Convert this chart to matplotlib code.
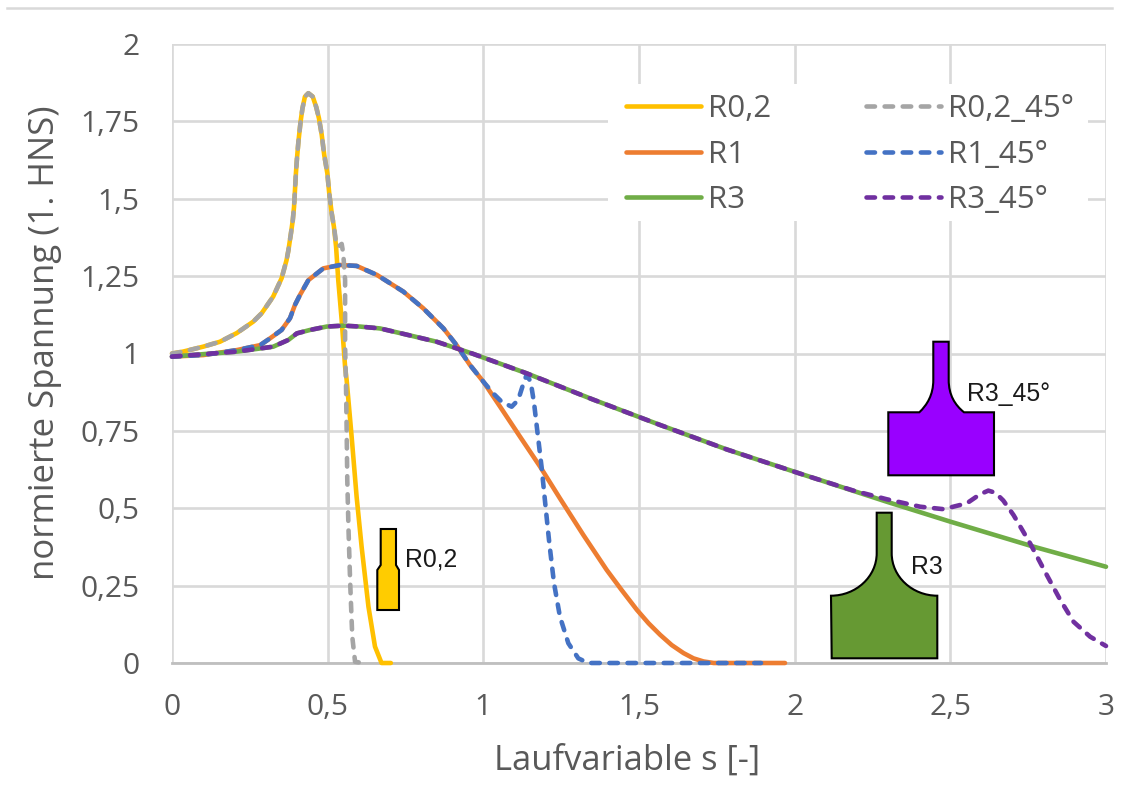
import matplotlib
matplotlib.use("Agg")
import matplotlib.pyplot as plt
from matplotlib.path import Path
from matplotlib.patches import PathPatch, Rectangle
from matplotlib.lines import Line2D
from matplotlib.transforms import Affine2D, IdentityTransform

W, H = 1125, 785
UI_FONT = "Open Sans"
GRAY = "#595959"

r02_x = [0, .035, .1, .154, .208, .261, .288, .325, .352, .368, .374, .382, .388, .392, .395, .398, .401, .406, .413,
         .419, .427, .438, .452, .463, .472, .481, .489, .499, .505, .513, .520, .527, .534, .545, .556, .561, .577,
         .593, .609, .631, .652, .673, .703]
r02_y = [1.0, 1.006, 1.022, 1.038, 1.066, 1.103, 1.13, 1.184, 1.243, 1.302, 1.334, 1.388, 1.431, 1.474, 1.528, 1.582,
         1.625, 1.684, 1.749, 1.792, 1.83, 1.841, 1.83, 1.797, 1.76, 1.706, 1.641, 1.582, 1.518, 1.453, 1.41, 1.345,
         1.237, 1.108, .957, .914, .731, .537, .376, .182, .053, 0, 0]
r02_45_x = [0, .035, .1, .154, .208, .261, .288, .325, .352, .368, .374, .382, .388, .392, .395, .398, .401, .406,
            .413, .419, .427, .438, .452, .463, .472, .481, .489, .499, .505, .513, .520, .527, .534, .545, .550,
            .556, .556, .556, .559, .561, .563, .567, .572, .579, .588, .613]
r02_45_y = [1.0, 1.006, 1.022, 1.038, 1.066, 1.103, 1.13, 1.184, 1.243, 1.302, 1.334, 1.388, 1.431, 1.474, 1.528,
            1.582, 1.625, 1.684, 1.749, 1.792, 1.83, 1.841, 1.83, 1.797, 1.76, 1.706, 1.641, 1.582, 1.518, 1.453,
            1.41, 1.36, 1.345, 1.354, 1.324, 1.237, 1.13, 1.022, .893, .753, .591, .43, .268, .085, .004, 0]
r1_x = [0, .101, .208, .283, .315, .352, .379, .395, .411, .438, .486, .54, .593, .658, .743, .807, .872, .914, .957,
        1.0, 1.054, 1.118, 1.182, 1.246, 1.321, 1.396, 1.444, 1.493, 1.531, 1.568, 1.605, 1.643, 1.675, 1.707, 1.74,
        1.969]
r1_y = [.99, .995, 1.011, 1.027, 1.049, 1.076, 1.114, 1.157, 1.189, 1.237, 1.275, 1.286, 1.283, 1.254, 1.2, 1.146,
        1.081, 1.027, .963, .909, .828, .731, .635, .532, .414, .301, .236, .172, .128, .091, .058, .032, .015, .005,
        0, 0]
r1_45_x = [0, .101, .208, .283, .315, .352, .379, .395, .411, .438, .486, .54, .593, .658, .743, .807, .872, .914,
           .957, 1.0, 1.032, 1.059, 1.091, 1.112, 1.129, 1.139, 1.152, 1.163, 1.173, 1.187, 1.201, 1.212, 1.227,
           1.246, 1.273, 1.305, 1.337, 1.892]
r1_45_y = [.99, .995, 1.011, 1.027, 1.049, 1.076, 1.114, 1.157, 1.189, 1.237, 1.275, 1.286, 1.283, 1.254, 1.2, 1.146,
           1.081, 1.027, .963, .909, .871, .844, .828, .85, .904, .931, .909, .839, .753, .634, .494, .387, .258,
           .15, .064, .015, 0, 0]
r3_x = [0, .101, .208, .325, .374, .401, .443, .497, .55, .604, .668, .745, .85, .964, 1.139, 1.353, 1.568, 1.782,
        2.017, 2.082, 2.296, 2.499, 2.767, 3.0]
r3_y = [.99, .998, 1.006, 1.022, 1.044, 1.065, 1.076, 1.087, 1.09, 1.087, 1.081, 1.063, 1.038, 1.0, .936, .851, .769,
        .69, .612, .591, .521, .457, .376, .311]
r3_45_x = [0, .101, .208, .325, .374, .401, .443, .497, .55, .604, .668, .745, .85, .964, 1.139, 1.353, 1.568, 1.782,
           2.017, 2.082, 2.189, 2.296, 2.403, 2.478, 2.553, 2.595, 2.622, 2.645, 2.67, 2.703, 2.756, 2.81, 2.853,
           2.896, 2.949, 3.0]
r3_45_y = [.99, .998, 1.006, 1.022, 1.044, 1.065, 1.076, 1.087, 1.09, 1.087, 1.081, 1.063, 1.038, 1.0, .936, .851,
           .769, .69, .612, .591, .557, .529, .505, .497, .516, .545, .557, .55, .525, .478, .387, .284, .204, .133,
           .085, .055]

x_ticks = [0, .5, 1, 1.5, 2, 2.5, 3]
x_labels = ["0", "0,5", "1", "1,5", "2", "2,5", "3"]
y_ticks = [0, .25, .5, .75, 1, 1.25, 1.5, 1.75, 2]
y_labels = ["0", "0,25", "0,5", "0,75", "1", "1,25", "1,5", "1,75", "2"]

fig = plt.figure(figsize=(W / 100, H / 100), dpi=100, facecolor="white")
ax = fig.add_axes([172 / W, 1 - 663 / H, (1106 - 172) / W, (663 - 44) / H])
ax.set_xlim(0, 3)
ax.set_ylim(0, 2)
ax.set_xticks(x_ticks, x_labels)
ax.set_yticks(y_ticks, y_labels)
ax.grid(True, color="#D9D9D9", lw=1.9, zorder=0)
ax.set_axisbelow(True)
for name, sp in ax.spines.items():
    sp.set_visible(name == "bottom")
ax.spines["bottom"].set_color("#BFBFBF")
ax.spines["bottom"].set_linewidth(2.0)
ax.tick_params(axis="x", length=0, labelsize=21.5, labelcolor=GRAY, pad=21.5)
ax.tick_params(axis="y", length=0, labelsize=21.5, labelcolor=GRAY, pad=23.5)
for t in ax.get_xticklabels() + ax.get_yticklabels():
    t.set_family(UI_FONT)

px = Affine2D().scale(1, -1).translate(0, H)

ax.set_xlabel("Laufvariable s [-]", family=UI_FONT, fontsize=24.8, color=GRAY)
ax.xaxis.set_label_coords(627, 744, transform=px)
ax.set_ylabel("normierte Spannung (1. HNS)", family=UI_FONT, fontsize=25, color=GRAY)
ax.yaxis.set_label_coords(62, 343, transform=px)

LW = 3.3
dash = (0, (1.85, 2.1))
styles = dict(lw=LW, clip_on=False, solid_capstyle="round", dash_capstyle="round", solid_joinstyle="round",
              dash_joinstyle="round")
series = [
    (r02_x, r02_y, "R0,2", "#FFC000", "-"),
    (r1_x, r1_y, "R1", "#ED7D31", "-"),
    (r3_x, r3_y, "R3", "#70AD47", "-"),
    (r02_45_x, r02_45_y, "R0,2_45°", "#A5A5A5", dash),
    (r1_45_x, r1_45_y, "R1_45°", "#4472C4", dash),
    (r3_45_x, r3_45_y, "R3_45°", "#7030A0", dash),
]
for i, (xs, ys, lab, col, ls) in enumerate(series):
    ax.plot(xs, ys, color=col, ls=ls, label=lab, zorder=3 + i * 0.1, **styles)

ax.add_patch(Rectangle((608, 84), 480, 137, transform=px, facecolor="white", edgecolor="none", clip_on=False,
                       zorder=1.5))
leg = ax.legend(ncol=2, loc="upper left", bbox_to_anchor=(626, H - 94), bbox_transform=IdentityTransform(),
                prop={"family": UI_FONT, "size": 22.5}, labelcolor=GRAY, frameon=False, borderaxespad=0,
                borderpad=0, handlelength=2.39, handletextpad=0.22, columnspacing=3.05, labelspacing=0.5)
leg.set_zorder(2)

M, L, C, Z = Path.MOVETO, Path.LINETO, Path.CURVE4, Path.CLOSEPOLY


def icon(points, codes, color):
    ax.add_patch(PathPatch(Path(points, codes), transform=px, facecolor=color, edgecolor="black", lw=1.5,
                           joinstyle="miter", clip_on=False, zorder=6))


icon([(380.7, 529), (396, 529), (396, 565), (399, 570), (399, 610), (377.3, 610), (377.3, 570), (380.7, 565),
      (380.7, 529)], [M, L, L, L, L, L, L, L, Z], "#FFCC00")
icon([(876.7, 512.7), (891.7, 512.7), (891.7, 553.3), (891.7, 576.6), (912.2, 595.7), (937.3, 595.7), (937.3, 658.3),
      (831.7, 658.3), (831, 595.7), (856, 595.7), (876.7, 576.6), (876.7, 553.3), (876.7, 512.7)],
     [M, L, L, C, C, C, L, L, L, C, C, C, Z], "#669933")
icon([(933.3, 341.7), (948.7, 341.7), (948.7, 380), (948.7, 395), (955, 405), (964, 412.3), (994, 412.3), (994, 475.3),
      (888.3, 475.3), (888.3, 412.3), (919.3, 412.3), (927, 405), (933.3, 395), (933.3, 380), (933.3, 341.7)],
     [M, L, L, C, C, C, L, L, L, L, L, C, C, C, Z], "#9900FF")

for tx, ty, s in [(405, 567, "R0,2"), (911, 574, "R3"), (967, 401, "R3_45°")]:
    ax.text(tx, ty, s, transform=px, family="Liberation Sans", fontsize=17.8, color="#1A1A1A", va="baseline",
            ha="left", zorder=7)

fig.add_artist(Line2D([7, 1112], [H - 8, H - 8], transform=IdentityTransform(), color="#D9D9D9", lw=1.8))

fig.savefig("out.png", dpi=100)
